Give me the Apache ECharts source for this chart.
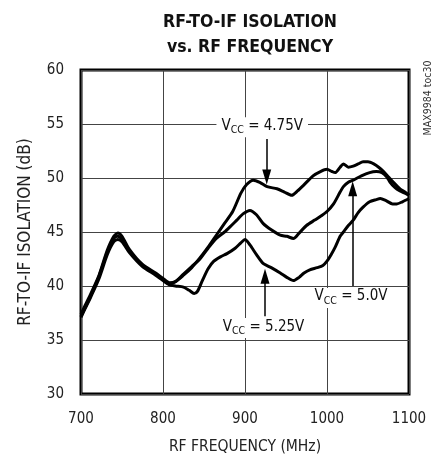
<!DOCTYPE html>
<html>
<head>
<meta charset="utf-8">
<script src="https://cdn.jsdelivr.net/npm/echarts@6/dist/echarts.min.js"></script>
<style>
  html, body { margin: 0; padding: 0; background: #fff; }
  #main { width: 435px; height: 460px; }
</style>
</head>
<body>
<div id="main"></div>
<script>
  // values
  const xTicks = [700, 800, 900, 1000, 1100];
  const yTicks = [30, 35, 40, 45, 50, 55, 60];

  const freq475 = [700, 705, 712, 722, 732, 740, 745, 750, 759, 775, 791, 800, 808, 815, 825, 835, 845, 855, 865, 875, 885, 895, 902, 910, 918, 927, 939, 948, 957, 964, 971, 983, 992, 1000, 1006, 1010, 1016, 1020, 1026, 1032, 1038, 1044, 1050, 1057, 1063, 1069, 1075, 1081, 1089, 1095, 1100];
  const iso475 = [37.4, 38.2, 39.3, 41.0, 43.3, 44.6, 44.9, 44.6, 43.4, 42.0, 41.2, 40.7, 40.3, 40.4, 41.0, 41.7, 42.6, 43.6, 44.7, 45.8, 46.9, 48.6, 49.4, 49.8, 49.6, 49.2, 49.0, 48.7, 48.4, 48.8, 49.3, 50.2, 50.6, 50.8, 50.6, 50.5, 51.0, 51.3, 51.0, 51.1, 51.3, 51.5, 51.5, 51.3, 51.0, 50.6, 50.1, 49.6, 49.0, 48.7, 48.4];

  const freq500 = [700, 705, 712, 722, 732, 740, 745, 750, 759, 775, 791, 800, 808, 815, 825, 835, 845, 855, 865, 875, 882, 890, 898, 906, 914, 922, 932, 943, 951, 959, 966, 975, 985, 993, 1000, 1008, 1016, 1020, 1026, 1032, 1042, 1052, 1060, 1067, 1073, 1077, 1083, 1089, 1095, 1100];
  const iso500 = [37.2, 38.0, 39.1, 40.9, 43.1, 44.4, 44.6, 44.3, 43.2, 41.9, 41.1, 40.6, 40.2, 40.4, 41.1, 41.8, 42.5, 43.5, 44.4, 45.0, 45.5, 46.1, 46.7, 47.0, 46.6, 45.8, 45.2, 44.7, 44.6, 44.4, 44.9, 45.6, 46.1, 46.5, 46.9, 47.6, 48.7, 49.2, 49.6, 49.8, 50.2, 50.5, 50.6, 50.5, 50.1, 49.6, 49.1, 48.8, 48.6, 48.4];

  const freq525 = [700, 705, 712, 722, 732, 740, 745, 750, 759, 775, 791, 800, 808, 815, 825, 832, 838, 842, 848, 855, 862, 870, 878, 888, 895, 900, 906, 914, 922, 932, 943, 951, 959, 966, 972, 979, 988, 995, 1000, 1005, 1010, 1016, 1020, 1026, 1032, 1038, 1044, 1052, 1060, 1065, 1072, 1080, 1085, 1092, 1100];
  const iso525 = [37.1, 37.9, 39.0, 40.7, 42.9, 44.1, 44.3, 44.1, 43.1, 41.8, 41.0, 40.5, 40.1, 40.0, 39.9, 39.6, 39.3, 39.5, 40.5, 41.6, 42.3, 42.7, 43.0, 43.5, 44.0, 44.3, 43.8, 42.9, 42.1, 41.7, 41.2, 40.8, 40.5, 40.8, 41.2, 41.5, 41.7, 41.9, 42.3, 42.9, 43.6, 44.6, 45.0, 45.6, 46.1, 46.8, 47.3, 47.8, 48.0, 48.1, 47.9, 47.6, 47.6, 47.8, 48.1];

  const FONT = "'DejaVu Sans Condensed', 'Liberation Sans Narrow', sans-serif";

  function pairs(xs, ys) {
    return xs.map((x, i) => [x, ys[i]]);
  }

  // V_CC label with subscript
  function vccLabel(volts) {
    return '{v|V}{s|CC}{v| = ' + volts + '}';
  }
  const labelRich = {
    v: { fontFamily: FONT, fontSize: 15, color: '#111', verticalAlign: 'bottom', padding: [0, 0, 3, 0] },
    s: { fontFamily: FONT, fontSize: 10.5, color: '#111', verticalAlign: 'bottom' }
  };

  function note(coord, volts) {
    return {
      coord: coord,
      symbol: 'circle',
      symbolSize: 0,
      label: {
        show: true,
        position: 'inside',
        formatter: vccLabel(volts),
        backgroundColor: '#fff',
        padding: [1, 5, 1, 5],
        rich: labelRich
      }
    };
  }

  function arrow(x, y0, y1) {
    return [
      { coord: [x, y0], symbol: 'none' },
      { coord: [x, y1], symbol: 'triangle', symbolSize: [9, 15] }
    ];
  }

  const chart = echarts.init(document.getElementById('main'));

  const lineBase = {
    type: 'line',
    showSymbol: false,
    symbol: 'none',
    smooth: 0.25,
    lineStyle: { color: '#000', width: 3 },
    itemStyle: { color: '#000' },
    z: 3
  };

  chart.setOption({
    animation: false,
    backgroundColor: '#fff',
    title: {
      text: 'RF-TO-IF ISOLATION\nvs. RF FREQUENCY',
      left: 245,
      top: 5,
      textAlign: 'center',
      textStyle: { fontFamily: FONT, fontSize: 17.5, fontWeight: 'bold', color: '#111', lineHeight: 25 }
    },
    graphic: [{
      type: 'text',
      x: 428,
      y: 98,
      rotation: Math.PI / 2,
      style: {
        text: 'MAX9984 toc30',
        fontFamily: FONT,
        fontSize: 10.5,
        fill: '#333',
        align: 'center',
        verticalAlign: 'middle'
      }
    }],
    grid: {
      left: 81,
      right: 26,
      top: 70,
      bottom: 63.5,
      show: true,
      borderColor: '#000',
      borderWidth: 3
    },
    xAxis: {
      type: 'value',
      min: xTicks[0],
      max: xTicks[xTicks.length - 1],
      interval: 100,
      name: 'RF FREQUENCY (MHz)',
      nameLocation: 'middle',
      nameGap: 45,
      nameTextStyle: { fontFamily: FONT, fontSize: 15.5, color: '#222' },
      axisLine: { show: false },
      axisTick: { show: false },
      axisLabel: { fontFamily: FONT, fontSize: 15, color: '#222', margin: 18, formatter: v => String(v) },
      splitLine: { show: true, lineStyle: { color: '#444', width: 1 } }
    },
    yAxis: {
      type: 'value',
      min: yTicks[0],
      max: yTicks[yTicks.length - 1],
      interval: 5,
      name: 'RF-TO-IF ISOLATION (dB)',
      nameLocation: 'middle',
      nameRotate: 90,
      nameGap: 47,
      nameTextStyle: { fontFamily: FONT, fontSize: 17, color: '#222' },
      axisLine: { show: false },
      axisTick: { show: false },
      axisLabel: { fontFamily: FONT, fontSize: 15, color: '#222', margin: 17, formatter: v => String(v) },
      splitLine: { show: true, lineStyle: { color: '#444', width: 1 } }
    },
    series: [
      Object.assign({}, lineBase, {
        name: 'VCC = 4.75V',
        data: pairs(freq475, iso475),
        markLine: {
          silent: true,
          animation: false,
          label: { show: false },
          lineStyle: { color: '#000', width: 1.5, type: 'solid' },
          data: [arrow(926.5, 53.6, 50.1), arrow(1031.3, 40.0, 49.0), arrow(924.4, 37.2, 40.9)]
        },
        markPoint: {
          silent: true,
          animation: false,
          data: [note([921, 54.7], '4.75V'), note([1029.3, 38.9], '5.0V'), note([922.6, 36.1], '5.25V')]
        }
      }),
      Object.assign({}, lineBase, { name: 'VCC = 5.0V', data: pairs(freq500, iso500) }),
      Object.assign({}, lineBase, { name: 'VCC = 5.25V', data: pairs(freq525, iso525) })
    ]
  });
</script>
</body>
</html>
